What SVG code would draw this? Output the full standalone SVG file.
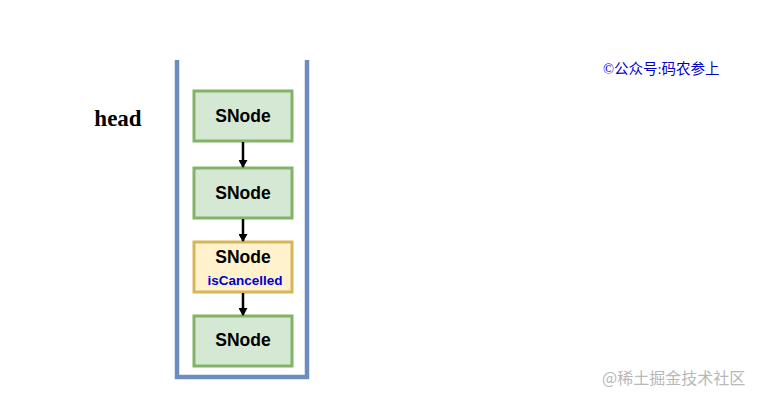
<svg xmlns="http://www.w3.org/2000/svg" width="760" height="400" viewBox="0 0 760 400">
<style>
.n rect{stroke-width:3}
.g rect{fill:#d5e8d4;stroke:#82b366}
.y rect{fill:#fff2cc;stroke:#d6b656}
.t{font-family:"Liberation Sans",Arial,sans-serif;font-weight:bold;font-size:17.5px;fill:#000;text-anchor:middle}
.s{font-family:"Liberation Sans",Arial,sans-serif;font-weight:bold;font-size:13.5px;fill:#0000cc;text-anchor:middle}
.c{stroke:#000;stroke-width:2.5;fill:none}
</style>
<defs>
<marker id="a" markerWidth="8" markerHeight="9" refX="7" refY="4.5" orient="auto" markerUnits="userSpaceOnUse">
<path d="M0,0 L8,4.5 L0,9 Z" fill="#000"/>
</marker>
</defs>
<rect width="760" height="400" fill="#fff"/>
<path id="stack" d="M177,60 V377 H307 V60" fill="none" stroke="#6c8ebf" stroke-width="4.5"/>
<text x="118" y="126" font-family="'Liberation Serif','Times New Roman',serif" font-weight="bold" font-size="23" text-anchor="middle">head</text>
<g id="n1" class="n g"><rect x="194" y="91" width="98" height="50"/><text class="t" x="243" y="122">SNode</text></g>
<g id="n2" class="n g"><rect x="194" y="168" width="98" height="50"/><text class="t" x="243" y="199">SNode</text></g>
<g id="n3" class="n y"><rect x="194" y="242" width="98" height="50"/><text class="t" x="243" y="263">SNode</text><text class="s" x="245" y="285">isCancelled</text></g>
<g id="n4" class="n g"><rect x="194" y="316" width="98" height="50"/><text class="t" x="243" y="346">SNode</text></g>
<g id="edges">
<line class="c" x1="243" y1="142" x2="243" y2="167" marker-end="url(#a)"/>
<line class="c" x1="243" y1="219" x2="243" y2="241" marker-end="url(#a)"/>
<line class="c" x1="243" y1="293" x2="243" y2="315" marker-end="url(#a)"/>
</g>
<text x="603" y="74" font-family="'Liberation Serif','Noto Sans CJK SC',serif" font-size="14.5" fill="#0000cc">©公众号:码农参上</text>
<text x="602" y="384" font-family="'Noto Sans CJK SC',sans-serif" font-size="16" fill="#b8b8b8">@稀土掘金技术社区</text>
</svg>
